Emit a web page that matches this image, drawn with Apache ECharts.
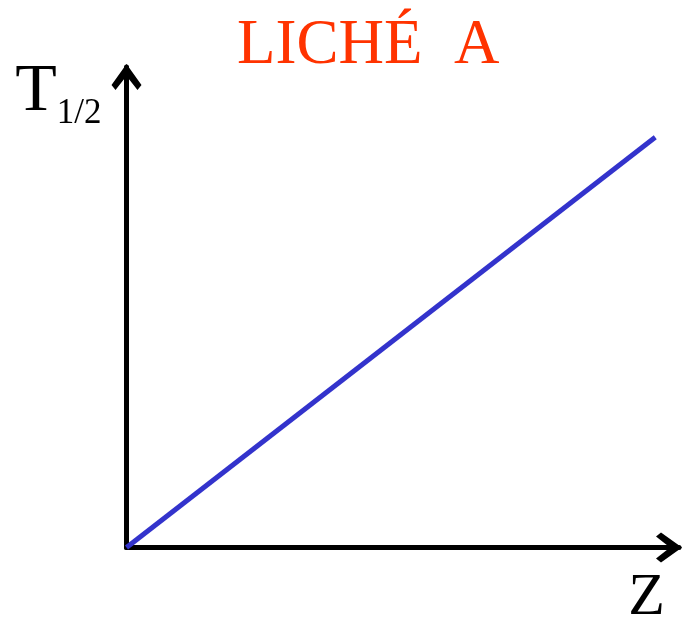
<!DOCTYPE html>
<html>
<head>
<meta charset="utf-8">
<script src="https://cdn.jsdelivr.net/npm/echarts@6/dist/echarts.min.js"></script>
<style>html,body{margin:0;padding:0;background:#fff;overflow:hidden}#c{width:685px;height:620px}</style>
</head>
<body>
<div id="c"></div>
<script>
var titleText = 'LICHÉ  A';
var xName = 'Z';
var yName = 'T';
var ySub = '1/2';
var zValues = [0, 9.57];
var tValues = [0, 8.54];

var chevron = 'path://M15 0 L30 21 L26 26 L15 12 L4 26 L0 21 Z';
var serif = "'Liberation Serif', 'DejaVu Serif', serif";

var chart = echarts.init(document.getElementById('c'), null, {renderer: 'canvas', width: 685, height: 620});
chart.setOption({
  animation: false,
  backgroundColor: '#fff',
  title: {
    text: titleText, left: 237, top: 15, padding: 0,
    textStyle: {fontFamily: serif, fontSize: 63, fontWeight: 'normal', color: '#FF3300'}
  },
  grid: {left: 126.5, right: 6, top: 67, bottom: 72.5, containLabel: false, outerBoundsMode: 'none'},
  xAxis: {
    type: 'value', min: 0, max: 10,
    name: xName, nameLocation: 'end', nameGap: -14,
    nameTextStyle: {fontFamily: serif, fontSize: 60, color: '#000', align: 'right', verticalAlign: 'top', padding: [21, 0, 0, 0]},
    axisLine: {show: true, onZero: false, symbol: ['none', chevron], symbolSize: [30, 26], symbolOffset: [0, -10],
      lineStyle: {color: '#000', width: 5}},
    axisTick: {show: false}, axisLabel: {show: false}, splitLine: {show: false}
  },
  yAxis: {
    type: 'value', min: 0, max: 10,
    name: '{t|' + yName + '}{s|' + ySub + '}', nameLocation: 'end', nameGap: 9,
    nameTextStyle: {
      align: 'right', verticalAlign: 'top', padding: [0, 25, 0, 0],
      rich: {
        t: {fontFamily: serif, fontSize: 68, color: '#000', verticalAlign: 'bottom', padding: [0, 0, 5, 0]},
        s: {fontFamily: serif, fontSize: 35, color: '#000', verticalAlign: 'bottom'}
      }
    },
    axisLine: {show: true, onZero: false, symbol: ['none', chevron], symbolSize: [30, 26], symbolOffset: [0, -10],
      lineStyle: {color: '#000', width: 5}},
    axisTick: {show: false}, axisLabel: {show: false}, splitLine: {show: false}
  },
  series: [{
    type: 'line',
    data: zValues.map(function (z, i) { return [z, tValues[i]]; }),
    showSymbol: false, symbol: 'none',
    lineStyle: {color: '#3333CC', width: 5},
    z: 1
  }]
});
</script>
</body>
</html>
